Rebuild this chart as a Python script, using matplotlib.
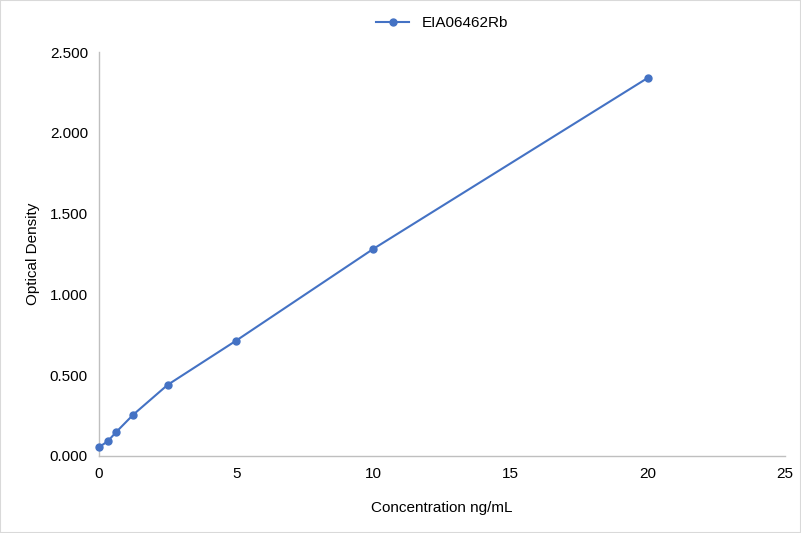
import matplotlib.pyplot as plt

# standard curve values
concentration = [0, 0.3125, 0.625, 1.25, 2.5, 5, 10, 20]
optical_density = [0.055, 0.09, 0.148, 0.256, 0.44, 0.714, 1.282, 2.34]
series_name = "EIA06462Rb"

x_ticks = [0, 5, 10, 15, 20, 25]
y_ticks = [0.0, 0.5, 1.0, 1.5, 2.0, 2.5]

plt.rcParams['font.family'] = ['Liberation Sans', 'DejaVu Sans']

fig = plt.figure(figsize=(8.01, 5.33), dpi=100)
ax = fig.add_axes([0.1236, 0.1445, 0.8564, 0.7579])

line_color = '#4472C4'
ax.plot(concentration, optical_density, color=line_color, linewidth=1.5,
        marker='o', markersize=5, label=series_name, clip_on=False, zorder=3)

ax.set_xlim(0, 25)
ax.set_ylim(0, 2.5)
ax.set_xticks(x_ticks)
ax.set_yticks(y_ticks)
ax.set_yticklabels([f"{v:.3f}" for v in y_ticks])
ax.tick_params(length=0, labelsize=11, colors='#000000')
ax.tick_params(axis='x', pad=8)
ax.tick_params(axis='y', pad=8)

for side in ['top', 'right']:
    ax.spines[side].set_visible(False)
for side in ['left', 'bottom']:
    ax.spines[side].set_color('#BFBFBF')
    ax.spines[side].set_linewidth(1)

ax.set_xlabel("Concentration ng/mL", fontsize=11, labelpad=14)
ax.set_ylabel("Optical Density", fontsize=11, labelpad=7)

ax.legend(loc='lower center', bbox_to_anchor=(0.5, 1.02), frameon=False,
          fontsize=11, handlelength=2.2)

# thin border around the whole chart
fig.patches.append(plt.Rectangle((0, 0), 1, 1, transform=fig.transFigure,
                                 fill=False, edgecolor='#D9D9D9', linewidth=1.5))

fig.savefig('out.png', dpi=100)
